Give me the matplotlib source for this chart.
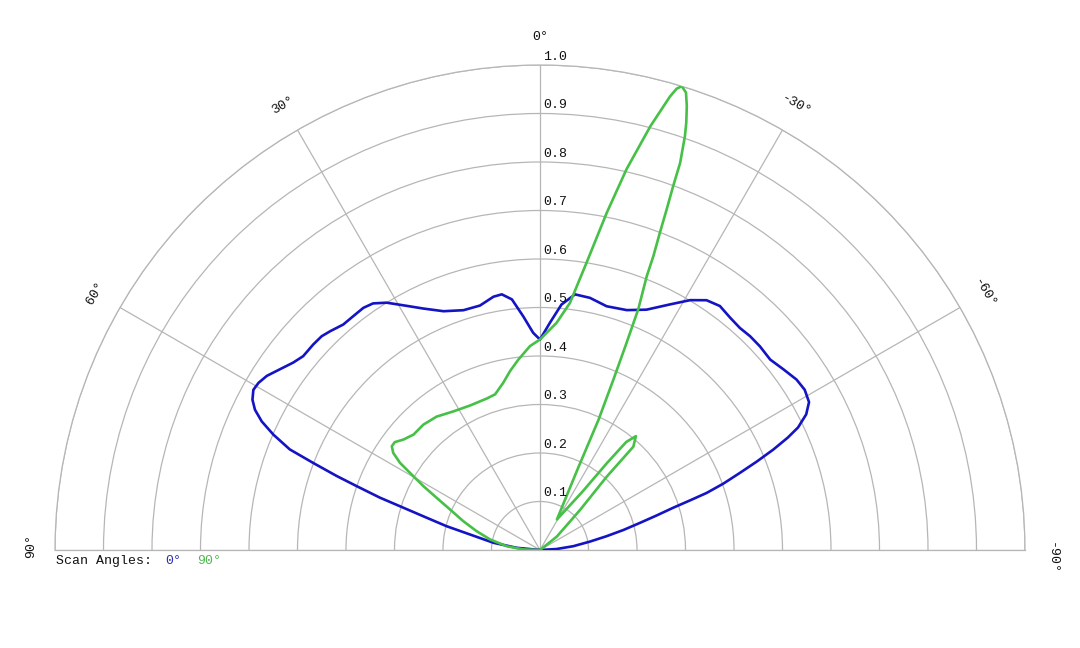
import numpy as np
import matplotlib
matplotlib.use("Agg")
import matplotlib.pyplot as plt

# ---- data (theta in degrees, 0 = broadside/top, positive = left) ----
blue_theta = [90, 84.6, 81.2, 77.5, 75.7, 74.1, 72.8, 71.9, 70.8, 70.0, 69.0, 68.1,
              66.6, 65.2, 63.8, 62.4, 60.8, 59.3, 57.5, 55.2, 52.8, 50.7, 47.8, 45.6,
              43.8, 41.1, 38.6, 36.1, 34.1, 31.8, 29.2, 25.8, 22.0, 17.7, 13.8, 10.4,
              8.5, 6.4, 4.1, 1.8, 0,
              -2.5, -5.0, -7.8, -11.2, -15.3, -19.9, -23.9, -27.9, -31.0, -33.7,
              -36.4, -39.3, -42.0, -44.5, -47.2, -50.4, -53.4, -56.4, -58.8, -61.2,
              -63.0, -64.6, -65.6, -66.7, -67.8, -68.9, -70.1, -71.1, -71.7, -72.4,
              -73.5, -74.8, -76.5, -78.3, -80.4, -83.5, -86.6, -90]
blue_r = [0.0, 0.048, 0.097, 0.148, 0.199, 0.243, 0.295, 0.347, 0.400, 0.446, 0.501, 0.556,
          0.599, 0.632, 0.655, 0.669, 0.677, 0.675, 0.668, 0.653, 0.639, 0.631, 0.631, 0.630,
          0.625, 0.617, 0.617, 0.618, 0.614, 0.600, 0.578, 0.553, 0.531, 0.519, 0.519, 0.531,
          0.533, 0.520, 0.483, 0.448, 0.434,
          0.469, 0.508, 0.532, 0.530, 0.521, 0.526, 0.542, 0.573, 0.601, 0.619,
          0.625, 0.619, 0.616, 0.618, 0.618, 0.616, 0.625, 0.635, 0.638, 0.633,
          0.616, 0.589, 0.561, 0.524, 0.483, 0.442, 0.402, 0.363, 0.326, 0.288,
          0.251, 0.214, 0.177, 0.140, 0.105, 0.069, 0.034, 0.0]

green_theta = [90, 88.0, 83.5, 78.1, 73.5, 69.4, 65.8, 63.2, 61.3, 59.3, 58.1, 56.5,
               55.0, 53.4, 51.0, 47.6, 42.9, 37.8, 32.0, 25.8, 19.4, 16.1, 12.4, 9.5,
               6.5, 2.8, 0, -4.2, -6.9, -9.2, -11.2, -12.8, -14.6, -16.0, -16.5, -17.0,
               -17.7, -18.3, -18.9, -19.3, -19.9, -20.1, -20.4, -20.7, -21.1, -21.3,
               -22.2, -22.7, -23.3, -24.2, -25.0, -29.0, -36.1, -37.6, -38.6, -40.1,
               -42.1, -42.3, -45.0, -51.5, -90]
green_r = [0.0, 0.034, 0.069, 0.105, 0.136, 0.169, 0.203, 0.239, 0.274, 0.312, 0.340, 0.363,
           0.373, 0.373, 0.362, 0.353, 0.353, 0.348, 0.337, 0.331, 0.331, 0.334, 0.353, 0.374,
           0.395, 0.421, 0.434, 0.470, 0.513, 0.600, 0.709, 0.805, 0.903, 0.973, 0.992, 1.0,
           0.990, 0.964, 0.931, 0.904, 0.849, 0.799, 0.749, 0.699, 0.649, 0.606,
           0.536, 0.460, 0.383, 0.294, 0.180, 0.072, 0.150, 0.226, 0.285, 0.307,
           0.287, 0.204, 0.117, 0.044, 0.0]

ring_values = [0.1, 0.2, 0.3, 0.4, 0.5, 0.6, 0.7, 0.8, 0.9, 1.0]
ring_labels = ["0.1", "0.2", "0.3", "0.4", "0.5", "0.6", "0.7", "0.8", "0.9", "1.0"]
spoke_angles = [-90, -60, -30, 0, 30, 60, 90]
angle_labels = ["-90°", "-60°", "-30°", "0°", "30°", "60°", "90°"]
legend_labels = ["0°", "90°"]

BLUE = "#1414c4"
GREEN = "#46c046"
GRID = "#b6b6b6"
FONT = "Liberation Mono"

W, H = 1080, 648
CX, CY, R = 540, 550, 485   # pixel centre / radius of the half-disc

fig = plt.figure(figsize=(W / 100, H / 100), dpi=100)
fig.patch.set_facecolor("white")
# the half wedge is centred in a square box: box side 2R, centre R/2 above the pole
side = 2 * R
box_cy = CY - R / 2
ax = fig.add_axes([(CX - R) / W, (H - (box_cy + R)) / H, side / W, side / H],
                  projection="polar")
ax.set_theta_zero_location("N")
ax.set_theta_direction(1)
ax.set_thetamin(-90)
ax.set_thetamax(90)
ax.set_ylim(0, 1)
ax.set_rticks(ring_values)
ax.set_yticklabels([])
ax.set_thetagrids(spoke_angles, labels=[""] * len(spoke_angles))
ax.tick_params(axis="both", length=0)
ax.grid(True, color=GRID, lw=0.9)
for s in ax.spines.values():
    s.set_color(GRID)
    s.set_linewidth(0.9)

ax.plot(np.deg2rad(blue_theta), blue_r, color=BLUE, lw=1.9, zorder=3,
        solid_joinstyle="round")
ax.plot(np.deg2rad(green_theta), green_r, color=GREEN, lw=1.9, zorder=4,
        solid_joinstyle="round")

for r, lab in zip(ring_values, ring_labels):
    ax.annotate(lab, xy=(0, r), xytext=(2.2, 1.5), textcoords="offset points",
                ha="left", va="bottom", fontsize=9.5, family=FONT, color="#111111",
                zorder=5)

# small pixel nudges for the two end labels (in points)
label_nudge = {90: (3, 3), -90: (-1, -6)}
for a, lab in zip(spoke_angles, angle_labels):
    ax.annotate(lab, xy=(np.deg2rad(a), 1.058), xytext=label_nudge.get(a, (0, 0)),
                textcoords="offset points", rotation=a, ha="center", va="center",
                rotation_mode="anchor", fontsize=9.5, family=FONT, color="#111111",
                annotation_clip=False)

fig.text(56 / W, 1 - 561 / H, "Scan Angles:", ha="left", va="center",
         fontsize=9.5, family=FONT, color="#111111")
fig.text(165 / W, 1 - 561 / H, legend_labels[0], ha="left", va="center",
         fontsize=9.5, family=FONT, color="#3030b0")
fig.text(197 / W, 1 - 561 / H, legend_labels[1], ha="left", va="center",
         fontsize=9.5, family=FONT, color="#50b850")

fig.savefig("out.png", dpi=100, facecolor="white")
